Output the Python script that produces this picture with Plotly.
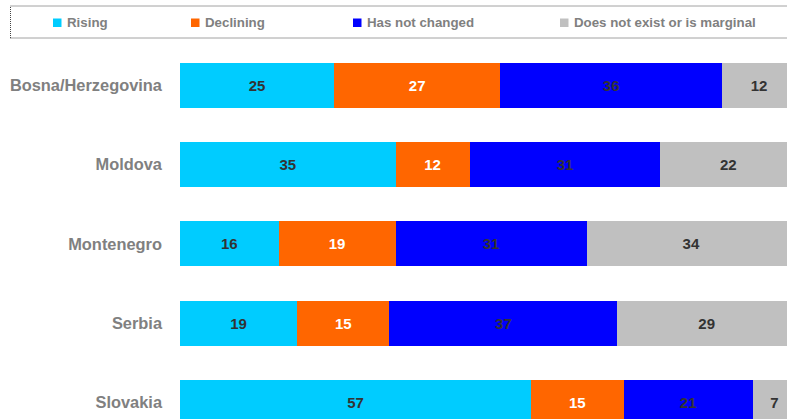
import plotly.graph_objects as go

countries = ["Bosna/Herzegovina", "Moldova", "Montenegro", "Serbia", "Slovakia"]
series_names = ["Rising", "Declining", "Has not changed", "Does not exist or is marginal"]
rising = [25, 35, 16, 19, 57]
declining = [27, 12, 19, 15, 15]
unchanged = [36, 31, 31, 37, 21]
marginal = [12, 22, 34, 29, 7]
colors = ["#00CCFF", "#FF6600", "#0000FF", "#C0C0C0"]
text_colors = ["#333333", "#FFFFFF", "#333333", "#333333"]

W, H = 787, 419
L = 180
PW = W - L
PX_PER_PCT = 6.16
FONT = "Arial, Liberation Sans, sans-serif"

fig = go.Figure()
for name, vals, c, tc in zip(series_names, [rising, declining, unchanged, marginal], colors, text_colors):
    fig.add_trace(go.Bar(
        y=countries, x=vals, name=name, orientation="h",
        marker=dict(color=c, line=dict(width=0)),
        text=vals, textposition="inside", insidetextanchor="middle",
        textfont=dict(family=FONT, size=15, color=tc, weight="bold"),
        constraintext="none", cliponaxis=True, showlegend=False,
        hoverinfo="skip",
    ))

# vertical geometry (pixels)
first_center = 85.2
spacing = 79.3
bar_h = 45
y_top = -first_center / spacing
y_bot = (H - first_center) / spacing

fig.update_layout(
    width=W, height=H, barmode="stack",
    bargap=1 - bar_h / spacing,
    margin=dict(l=L, r=0, t=0, b=0, pad=0),
    plot_bgcolor="white", paper_bgcolor="white",
    xaxis=dict(range=[0, PW / PX_PER_PCT], visible=False, fixedrange=True),
    yaxis=dict(
        range=[y_bot, y_top], showgrid=False, zeroline=False, showline=False,
        ticks="", ticklabelstandoff=17,
        tickfont=dict(family=FONT, size=16.4, color="#808080", weight="bold"),
        categoryorder="array", categoryarray=countries,
    ),
    showlegend=False,
)

def px_x(px):
    return (px - L) / PW

def px_y(py):
    return 1 - py / H

# legend box (dotted)
fig.add_shape(type="rect", xref="paper", yref="paper",
              x0=px_x(10.5), x1=px_x(800), y0=px_y(38), y1=px_y(6),
              line=dict(color="#444444", width=1, dash="1px,1px"), fillcolor="rgba(0,0,0,0)", layer="above")

sq_left = [53, 191, 353, 560]
for name, c, sx in zip(series_names, colors, sq_left):
    fig.add_shape(type="rect", xref="paper", yref="paper",
                  x0=px_x(sx), x1=px_x(sx + 8.5), y0=px_y(27), y1=px_y(18.5),
                  line=dict(width=0), fillcolor=c)
    fig.add_annotation(xref="paper", yref="paper", x=px_x(sx + 11.5), y=px_y(22.5),
                       text=name, showarrow=False, xanchor="left", yanchor="middle",
                       font=dict(family=FONT, size=13.3, color="#808080", weight="bold"))

fig.write_html("out.html")
